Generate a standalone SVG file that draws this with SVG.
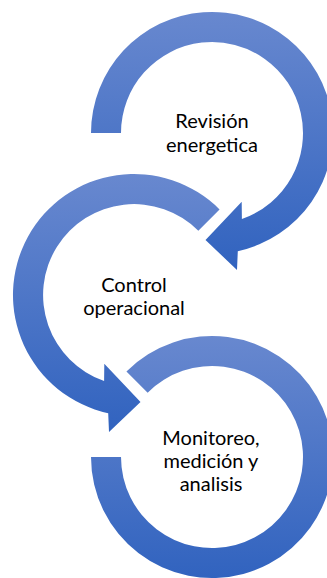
<svg xmlns="http://www.w3.org/2000/svg" width="327" height="578" viewBox="0 0 327 578">
<style>
.lbl{font-family:Lato,"Liberation Sans",sans-serif;font-size:20px;fill:#000;text-anchor:middle}
.arw{fill:url(#g)}
</style>
<defs>
<linearGradient id="g" x1="0" y1="0" x2="0" y2="1">
<stop offset="0" stop-color="#6888CF"/>
<stop offset="1" stop-color="#3163BF"/>
</linearGradient>
</defs>
<rect width="327" height="578" fill="#fff"/>
<g id="node1">
<path class="arw" d="M 91 133 A 121 121 0 1 1 237.8 251.2 L 237 270 L 205.5 240 L 241.7 201.7 L 241.9 219 A 91 91 0 1 0 121 133 Z"/>
<text class="lbl" x="212" y="128">Revisión</text>
<text class="lbl" x="212" y="151.5">energetica</text>
</g>
<g id="node2">
<path class="arw" d="M 219.56 209.44 A 121 121 0 1 0 108.2 413.2 L 109 432 L 140.5 402 L 104.3 363.7 L 104.1 381 A 91 91 0 1 1 198.35 230.65 Z"/>
<text class="lbl" x="134" y="292">Control</text>
<text class="lbl" x="134" y="315">operacional</text>
</g>
<g id="node3">
<path class="arw" d="M 126.44 371.44 A 121 121 0 1 1 91 457 L 121 457 A 91 91 0 1 0 147.65 392.65 Z"/>
<text class="lbl" x="211" y="445">Monitoreo,</text>
<text class="lbl" x="211" y="468">medición y</text>
<text class="lbl" x="211" y="490.5">analisis</text>
</g>
</svg>
